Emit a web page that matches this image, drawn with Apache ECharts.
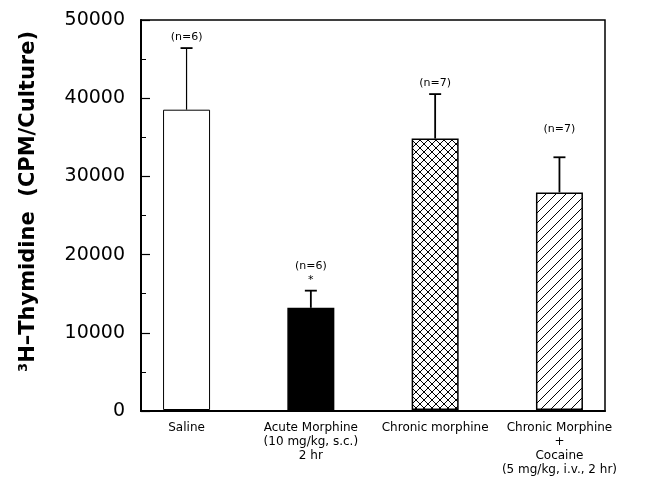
<!DOCTYPE html>
<html>
<head>
<meta charset="utf-8">
<style>
html, body {
  margin: 0;
  padding: 0;
  background: #fff;
}
#chart {
  width: 655px;
  height: 477px;
}
</style>
<script src="https://cdn.jsdelivr.net/npm/echarts@6/dist/echarts.min.js"></script>
</head>
<body>
<div id="chart"></div>
<script>
// groups as printed under the bars
const groups = [
  'Saline',
  'Acute Morphine\n(10 mg/kg, s.c.)\n2 hr',
  'Chronic morphine',
  'Chronic Morphine\n+\nCocaine\n(5 mg/kg, i.v., 2 hr)'
]
const means = [38500, 13100, 34800, 27900]
const errTops = [46400, 15300, 40500, 32400]
const nLabels = ['(n=6)', '(n=6)\n*', '(n=7)', '(n=7)']
const yTicks = [0, 10000, 20000, 30000, 40000, 50000]

// extra lift (px) of the n= label over the cap
const labelLift = [0, 0, 0, 17]

function pattern (kind) {
  const size = kind === 'cross' ? 8 : 10
  const c = document.createElement('canvas')
  c.width = c.height = size
  const ctx = c.getContext('2d')
  ctx.fillStyle = '#fff'
  ctx.fillRect(0, 0, size, size)
  ctx.strokeStyle = '#000'
  ctx.lineWidth = 1
  ctx.beginPath()
  ctx.moveTo(-2, size + 2)
  ctx.lineTo(size + 2, -2)
  if (kind === 'cross') {
    ctx.moveTo(-2, -2)
    ctx.lineTo(size + 2, size + 2)
  }
  ctx.stroke()
  return { image: c, repeat: 'repeat' }
}

const fills = ['#fff', '#000', pattern('cross'), pattern('diag')]

const chart = echarts.init(document.getElementById('chart'), null, { renderer: 'canvas' })

const option = {
  animation: false,
  backgroundColor: '#fff',
  textStyle: { fontFamily: 'DejaVu Sans' },
  grid: [
    // frame
    { left: 141, top: 20, width: 464, height: 391, show: true, borderColor: '#000', borderWidth: 1.5 },
    // bars
    { left: 124.4, top: 20, width: 497.2, height: 391 }
  ],
  xAxis: [
    {
      gridIndex: 0, type: 'value', min: 0, max: 1,
      axisLine: { show: true, lineStyle: { color: '#000', width: 2 } },
      axisTick: { show: false }, axisLabel: { show: false }, splitLine: { show: false }
    },
    {
      gridIndex: 1, type: 'category', data: groups,
      axisLine: { show: false }, axisTick: { show: false },
      axisLabel: { color: '#000', fontSize: 12, lineHeight: 14, margin: 11, interval: 0 }
    }
  ],
  yAxis: [
    {
      gridIndex: 0, type: 'value', min: 0, max: 50000, interval: 10000,
      name: '³H–Thymidine  (CPM/Culture)',
      nameLocation: 'middle',
      nameGap: 102,
      nameTextStyle: { color: '#000', fontSize: 21, fontWeight: 'bold', padding: [0, 0, 0, 28] },
      axisLine: { show: true, lineStyle: { color: '#000', width: 2 } },
      axisTick: { show: true, inside: true, length: 9, lineStyle: { color: '#000', width: 1.2 } },
      minorTick: { show: true, splitNumber: 2, length: 5, lineStyle: { color: '#000', width: 1 } },
      axisLabel: {
        color: '#000', fontSize: 19, margin: 16,
        formatter: v => (yTicks.indexOf(v) >= 0 ? String(v) : '')
      },
      splitLine: { show: false }
    },
    {
      gridIndex: 1, type: 'value', min: 0, max: 50000, show: false
    }
  ],
  series: [
    {
      type: 'bar',
      xAxisIndex: 1,
      yAxisIndex: 1,
      barWidth: 47,
      data: means.map((v, i) => ({
        value: v,
        itemStyle: { color: fills[i], borderColor: '#000', borderWidth: i === 0 ? 1 : 1.5 }
      })),
      z: 2
    },
    {
      type: 'custom',
      xAxisIndex: 1,
      yAxisIndex: 1,
      data: means.map((m, i) => [i, m, errTops[i]]),
      renderItem: (params, api) => {
        const i = api.value(0)
        const base = api.coord([i, api.value(1)])
        const top = api.coord([i, api.value(2)])
        const lw = i === 0 ? 1.2 : 1.8
        return {
          type: 'group',
          children: [
            { type: 'line', shape: { x1: base[0], y1: base[1], x2: top[0], y2: top[1] }, style: { stroke: '#000', lineWidth: lw } },
            { type: 'line', shape: { x1: top[0] - 6, y1: top[1], x2: top[0] + 6, y2: top[1] }, style: { stroke: '#000', lineWidth: 1.8 } },
            {
              type: 'text',
              x: top[0],
              y: top[1] - 4 - labelLift[i],
              style: {
                text: nLabels[i], fill: '#000', fontSize: 11, lineHeight: 14,
                fontFamily: 'DejaVu Sans', align: 'center', verticalAlign: 'bottom'
              }
            }
          ]
        }
      },
      z: 3
    }
  ]
}

chart.setOption(option)
</script>
</body>
</html>
